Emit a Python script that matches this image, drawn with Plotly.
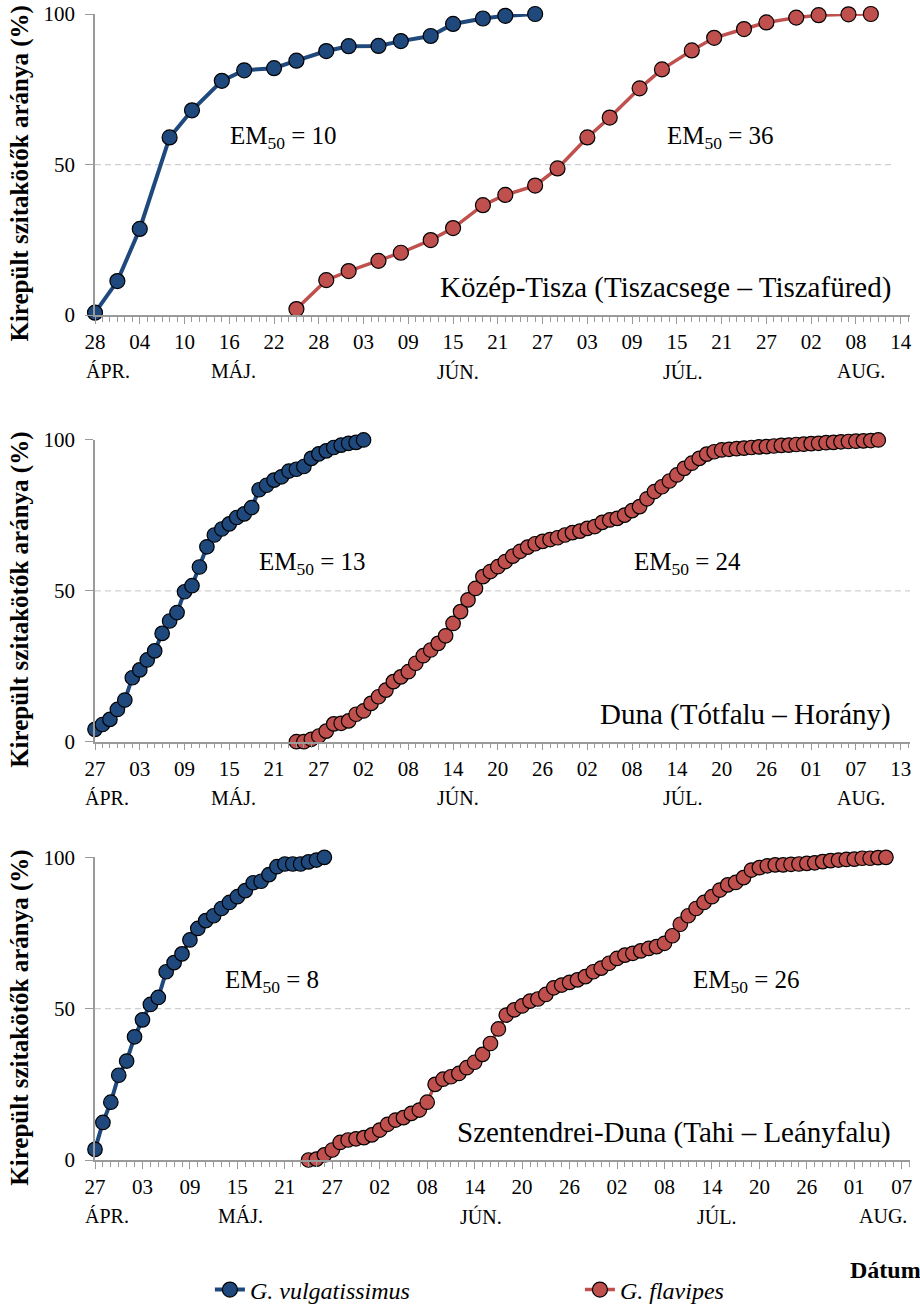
import plotly.graph_objects as go
import pandas as pd

BLUE = "#1F497D"
RED = "#C0504D"
FONT = "'Liberation Serif', 'Times New Roman', Times, 'DejaVu Serif', serif"
AXIS_GRAY = "#9A9A9A"

# ---------------- data ----------------
# Panel 1: Közép-Tisza (sampling every 3-4 days)
p1_blue_dates = ["2008-04-28", "2008-05-01", "2008-05-04", "2008-05-08", "2008-05-11", "2008-05-15",
                 "2008-05-18", "2008-05-22", "2008-05-25", "2008-05-29", "2008-06-01", "2008-06-05",
                 "2008-06-08", "2008-06-12", "2008-06-15", "2008-06-19", "2008-06-22", "2008-06-26"]
p1_blue_vals = [0.8, 11.3, 28.6, 59.0, 68.0, 77.8, 81.3, 82.0, 84.5, 87.7, 89.3, 89.4,
                91.0, 92.7, 96.7, 98.5, 99.4, 100.0]
p1_red_dates = ["2008-05-25", "2008-05-29", "2008-06-01", "2008-06-05", "2008-06-08", "2008-06-12",
                "2008-06-15", "2008-06-19", "2008-06-22", "2008-06-26", "2008-06-29", "2008-07-03",
                "2008-07-06", "2008-07-10", "2008-07-13", "2008-07-17", "2008-07-20", "2008-07-24",
                "2008-07-27", "2008-07-31", "2008-08-03", "2008-08-07", "2008-08-10"]
p1_red_vals = [2.0, 11.6, 14.6, 18.0, 20.7, 24.9, 28.9, 36.5, 39.9, 43.0, 48.7, 59.0,
               65.6, 75.3, 81.6, 87.9, 92.1, 95.0, 97.2, 98.8, 99.6, 99.9, 100.0]

# Panel 2: Duna (daily sampling)
p2_blue_start = "2008-04-27"
p2_blue_vals = [4.1, 5.7, 7.4, 10.7, 13.8, 21.2, 23.8, 27.1, 30.1, 35.9, 40.0, 42.8, 49.7,
                51.7, 57.9, 64.6, 68.5, 70.5, 72.2, 74.3, 75.5, 77.6, 83.5, 85.0, 86.7, 87.8,
                89.7, 90.3, 91.2, 93.9, 95.4, 96.4, 97.5, 98.3, 98.9, 99.2, 100.0]
p2_red_start = "2008-05-24"
p2_red_vals = [0.0, 0.0, 0.8, 1.9, 3.5, 5.9, 6.1, 6.9,
               9.1, 10.2, 12.7, 14.9, 17.1, 19.9, 21.5, 23.2, 26.0, 28.5, 30.4, 32.6, 35.1, 39.2,
               43.1, 47.0, 50.8, 54.7, 56.4, 58.0, 59.7, 61.5, 63.1, 64.5, 65.6, 66.4, 67.0, 67.6,
               68.5, 69.3,
               69.8, 70.7, 71.3, 72.7, 73.5, 74.0, 75.1, 76.6, 77.9, 80.5, 82.9, 84.5, 86.4, 88.4,
               90.6, 92.3, 93.9, 95.3, 96.1, 96.7, 96.9, 97.1, 97.3, 97.5, 97.7, 97.8, 98.0, 98.2,
               98.3, 98.5, 98.6,
               98.8, 98.9, 99.1, 99.2, 99.4, 99.5, 99.6, 99.7, 99.8, 100.0]

# Panel 3: Szentendrei-Duna (daily sampling)
p3_blue_start = "2008-04-27"
p3_blue_vals = [3.5, 12.4, 19.1, 28.0, 32.7, 40.7, 46.3, 51.4, 53.7, 62.2, 65.2, 68.1, 72.7,
                76.5, 79.1, 80.7, 83.1, 85.1, 87.0, 89.0, 91.6, 92.1, 94.3, 96.9, 97.8, 97.8,
                97.8, 98.5, 99.1, 100.0]
p3_red_start = "2008-05-24"
p3_red_vals = [0.0, 0.3, 1.7, 3.3, 5.8, 6.6, 7.0, 7.4,
               8.3, 9.9, 11.8, 13.2, 14.0, 15.4, 16.5, 19.1, 25.0, 26.7, 27.5, 28.6, 30.5, 32.3,
               34.9, 38.5, 43.3, 47.9, 49.6, 50.9, 52.5, 53.2, 54.7, 56.9, 57.8, 58.7, 59.5, 60.6,
               62.2, 63.4,
               65.0, 66.6, 67.7, 68.3, 69.1, 69.9, 70.5, 71.6, 74.1, 77.9, 80.7, 83.1, 85.1, 87.0,
               89.2, 90.9, 91.7, 93.3, 95.8, 96.6, 97.2, 97.5, 97.5, 97.7, 97.8, 98.0, 98.2, 98.6,
               98.9, 99.1, 99.3,
               99.4, 99.7, 99.7, 99.9, 100.0]

panel_titles = ["Közép-Tisza (Tiszacsege \u2013 Tiszafüred)",
                "Duna (Tótfalu \u2013 Horány)",
                "Szentendrei-Duna (Tahi \u2013 Leányfalu)"]
em50_blue = [10, 13, 8]
em50_red = [36, 24, 26]
month_names = ["ÁPR.", "MÁJ.", "JÚN.", "JÚL.", "AUG."]
series_names = ["<i>G. vulgatissimus</i>", "<i>G. flavipes</i>"]
y_title = "Kirepült szitakötők aránya (%)"
x_title = "Dátum"

# axis layout settings
x_ranges = [["2008-04-28", "2008-08-15 06:00"],
            ["2008-04-27", "2008-08-14 06:00"],
            ["2008-04-27", "2008-08-08 01:00"]]
y_domains = [[0.7373, 1.0], [0.3650, 0.6283], [0.0, 0.2641]]
month_pos = [[0.016, 0.170, 0.445, 0.721, 0.940],
             [0.015, 0.170, 0.445, 0.721, 0.940],
             [0.015, 0.178, 0.474, 0.763, 0.967]]
em_blue_pos = [0.231, 0.267, 0.217]
em_red_pos = [0.768, 0.727, 0.799]
grid_end = [0.979, 1.0, 1.0]

p2_blue_dates = pd.date_range(p2_blue_start, periods=len(p2_blue_vals), freq="D")
p2_red_dates = pd.date_range(p2_red_start, periods=len(p2_red_vals), freq="D")
p3_blue_dates = pd.date_range(p3_blue_start, periods=len(p3_blue_vals), freq="D")
p3_red_dates = pd.date_range(p3_red_start, periods=len(p3_red_vals), freq="D")

panels = [
    (p1_blue_dates, p1_blue_vals, p1_red_dates, p1_red_vals, 15),
    (p2_blue_dates, p2_blue_vals, p2_red_dates, p2_red_vals, 14.5),
    (p3_blue_dates, p3_blue_vals, p3_red_dates, p3_red_vals, 14.5),
]

fig = go.Figure()
DAY = 86400000

for i, (bd, bv, rd, rv, msize) in enumerate(panels):
    xa = "x" if i == 0 else f"x{i+1}"
    ya = "y" if i == 0 else f"y{i+1}"
    fig.add_trace(go.Scatter(
        x=bd, y=bv, xaxis=xa, yaxis=ya, mode="lines+markers", name=series_names[0],
        legend="legend", legendgroup="blue", showlegend=(i == 0), cliponaxis=False,
        line=dict(color=BLUE, width=4),
        marker=dict(size=msize, color=BLUE, line=dict(color="black", width=1.2))))
    fig.add_trace(go.Scatter(
        x=rd, y=rv, xaxis=xa, yaxis=ya, mode="lines+markers", name=series_names[1],
        legend="legend2", legendgroup="red", showlegend=(i == 0), cliponaxis=False,
        line=dict(color=RED, width=3.5),
        marker=dict(size=msize, color=RED, line=dict(color="black", width=1.2))))

legend_font = dict(family=FONT, size=24, color="black")
layout = dict(
    width=920, height=1305,
    margin=dict(l=95, r=10, t=14, b=145, autoexpand=False),
    paper_bgcolor="white", plot_bgcolor="white",
    font=dict(family=FONT, color="black"),
    showlegend=True,
    legend=dict(orientation="h", x=0.141, xanchor="left", y=-0.1134, yanchor="middle",
                font=legend_font, bgcolor="rgba(0,0,0,0)"),
    legend2=dict(orientation="h", x=0.595, xanchor="left", y=-0.1134, yanchor="middle",
                 font=legend_font, bgcolor="rgba(0,0,0,0)"),
)

annotations = []
shapes = []
for i in range(3):
    xk = "xaxis" if i == 0 else f"xaxis{i+1}"
    yk = "yaxis" if i == 0 else f"yaxis{i+1}"
    xa = "x" if i == 0 else f"x{i+1}"
    ya = "y" if i == 0 else f"y{i+1}"
    layout[xk] = dict(
        type="date", range=x_ranges[i], domain=[0, 1], anchor=ya,
        tick0=x_ranges[i][0], dtick=6 * DAY, tickformat="%d",
        showline=True, linecolor=AXIS_GRAY, linewidth=1.5,
        ticks="outside", ticklen=7, tickcolor=AXIS_GRAY, tickwidth=1.3,
        tickfont=dict(family=FONT, size=21, color="black"),
        showgrid=False, zeroline=False, automargin=False,
        minor=dict(dtick=DAY, tick0=x_ranges[i][0], ticks="outside", ticklen=5,
                   tickcolor=AXIS_GRAY, tickwidth=1, showgrid=False),
    )
    layout[yk] = dict(
        range=[0, 100], domain=y_domains[i], anchor=xa,
        tickvals=[0, 50, 100], showline=True, linecolor=AXIS_GRAY, linewidth=1.5,
        ticks="outside", ticklen=8, tickcolor=AXIS_GRAY, tickwidth=1.3,
        tickfont=dict(family=FONT, size=21, color="black"),
        showgrid=False, zeroline=False, ticklabelstandoff=6, automargin=False,
    )
    shapes.append(dict(type="line", xref=f"{xa} domain", yref=ya, x0=0, x1=grid_end[i], y0=50, y1=50,
                       line=dict(color="#CFCFCF", width=1.2, dash="6px,4px"), layer="below"))
    for name, pos in zip(month_names, month_pos[i]):
        annotations.append(dict(text=name, xref=f"{xa} domain", yref=f"{ya} domain",
                                x=pos, y=0, yshift=-56, xanchor="center", yanchor="middle",
                                showarrow=False, font=dict(family=FONT, size=20, color="black")))
    annotations.append(dict(text=f"EM<sub>50</sub> = {em50_blue[i]}", xref=f"{xa} domain", yref=ya,
                            x=em_blue_pos[i], y=59, xanchor="center", yanchor="middle",
                            showarrow=False, font=dict(family=FONT, size=25, color="black")))
    annotations.append(dict(text=f"EM<sub>50</sub> = {em50_red[i]}", xref=f"{xa} domain", yref=ya,
                            x=em_red_pos[i], y=59, xanchor="center", yanchor="middle",
                            showarrow=False, font=dict(family=FONT, size=25, color="black")))
    annotations.append(dict(text=panel_titles[i], xref=f"{xa} domain", yref=ya,
                            x=0.979, y=9, xanchor="right", yanchor="middle",
                            showarrow=False, font=dict(family=FONT, size=29, color="black")))
    annotations.append(dict(text=f"<b>{y_title}</b>", xref="paper", yref=f"{ya} domain",
                            x=-0.092, y=0.5, yshift=-9, xanchor="center", yanchor="middle",
                            textangle=-90, showarrow=False,
                            font=dict(family=FONT, size=25, color="black")))

annotations.append(dict(text=f"<b>{x_title}</b>", xref="paper", yref="paper",
                        x=0.924, y=-0.096, xanchor="left", yanchor="middle", showarrow=False,
                        font=dict(family=FONT, size=24, color="black")))

layout["annotations"] = annotations
layout["shapes"] = shapes
fig.update_layout(**layout)

fig.write_html("out.html")
